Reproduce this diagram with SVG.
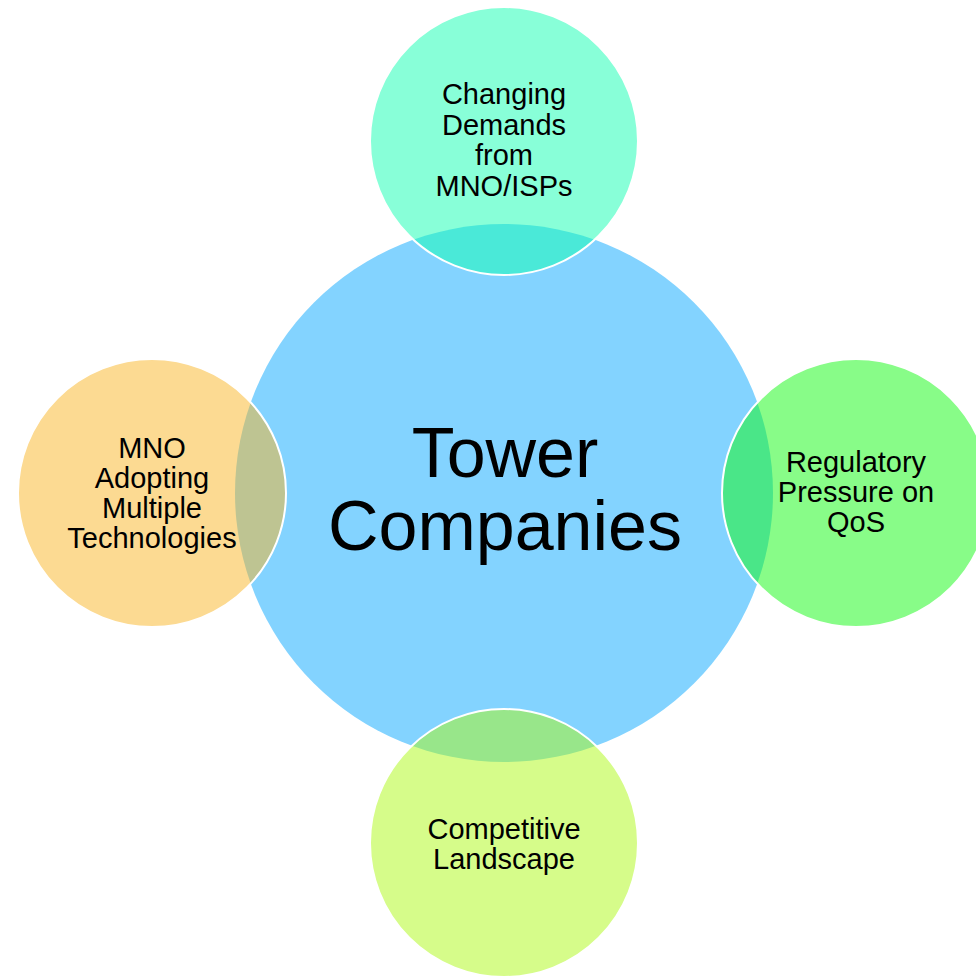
<svg xmlns="http://www.w3.org/2000/svg" width="976" height="977" viewBox="0 0 976 977">
<style>
.sat{stroke:#FFFFFF;stroke-width:2}
text{font-family:"Liberation Sans",Arial,sans-serif;fill:#000;text-anchor:middle}
.s{font-size:29px}
.c{font-size:70px}
</style>
<rect width="976" height="977" fill="#FFFFFF"/>
<g id="center">
<circle cx="504" cy="493" r="269" fill="#83D3FF"/>
</g>
<g id="top">
<circle class="sat" cx="504" cy="141" r="134" fill="#11FFB1" fill-opacity="0.5"/>
<text class="s"><tspan x="504" y="104">Changing</tspan><tspan x="504" y="134.5">Demands</tspan><tspan x="504" y="165">from</tspan><tspan x="504" y="195.5">MNO/ISPs</tspan></text>
</g>
<g id="left">
<circle class="sat" cx="152" cy="493" r="134" fill="#F9B525" fill-opacity="0.5"/>
<text class="s"><tspan x="152" y="457.5">MNO</tspan><tspan x="152" y="487.5">Adopting</tspan><tspan x="152" y="518">Multiple</tspan><tspan x="152" y="548">Technologies</tspan></text>
</g>
<g id="right">
<circle class="sat" cx="856" cy="493" r="134" fill="#11F911" fill-opacity="0.5"/>
<text class="s"><tspan x="856" y="472">Regulatory</tspan><tspan x="856" y="502">Pressure on</tspan><tspan x="856" y="532">QoS</tspan></text>
</g>
<g id="bottom">
<circle class="sat" cx="504" cy="843" r="134" fill="#ADF915" fill-opacity="0.5"/>
<text class="s"><tspan x="504" y="839">Competitive</tspan><tspan x="504" y="868.5">Landscape</tspan></text>
</g>
<g id="center-label">
<text class="c"><tspan x="505" y="477">Tower</tspan><tspan x="505" y="550">Companies</tspan></text>
</g>
<g id="connectors"></g>
</svg>
